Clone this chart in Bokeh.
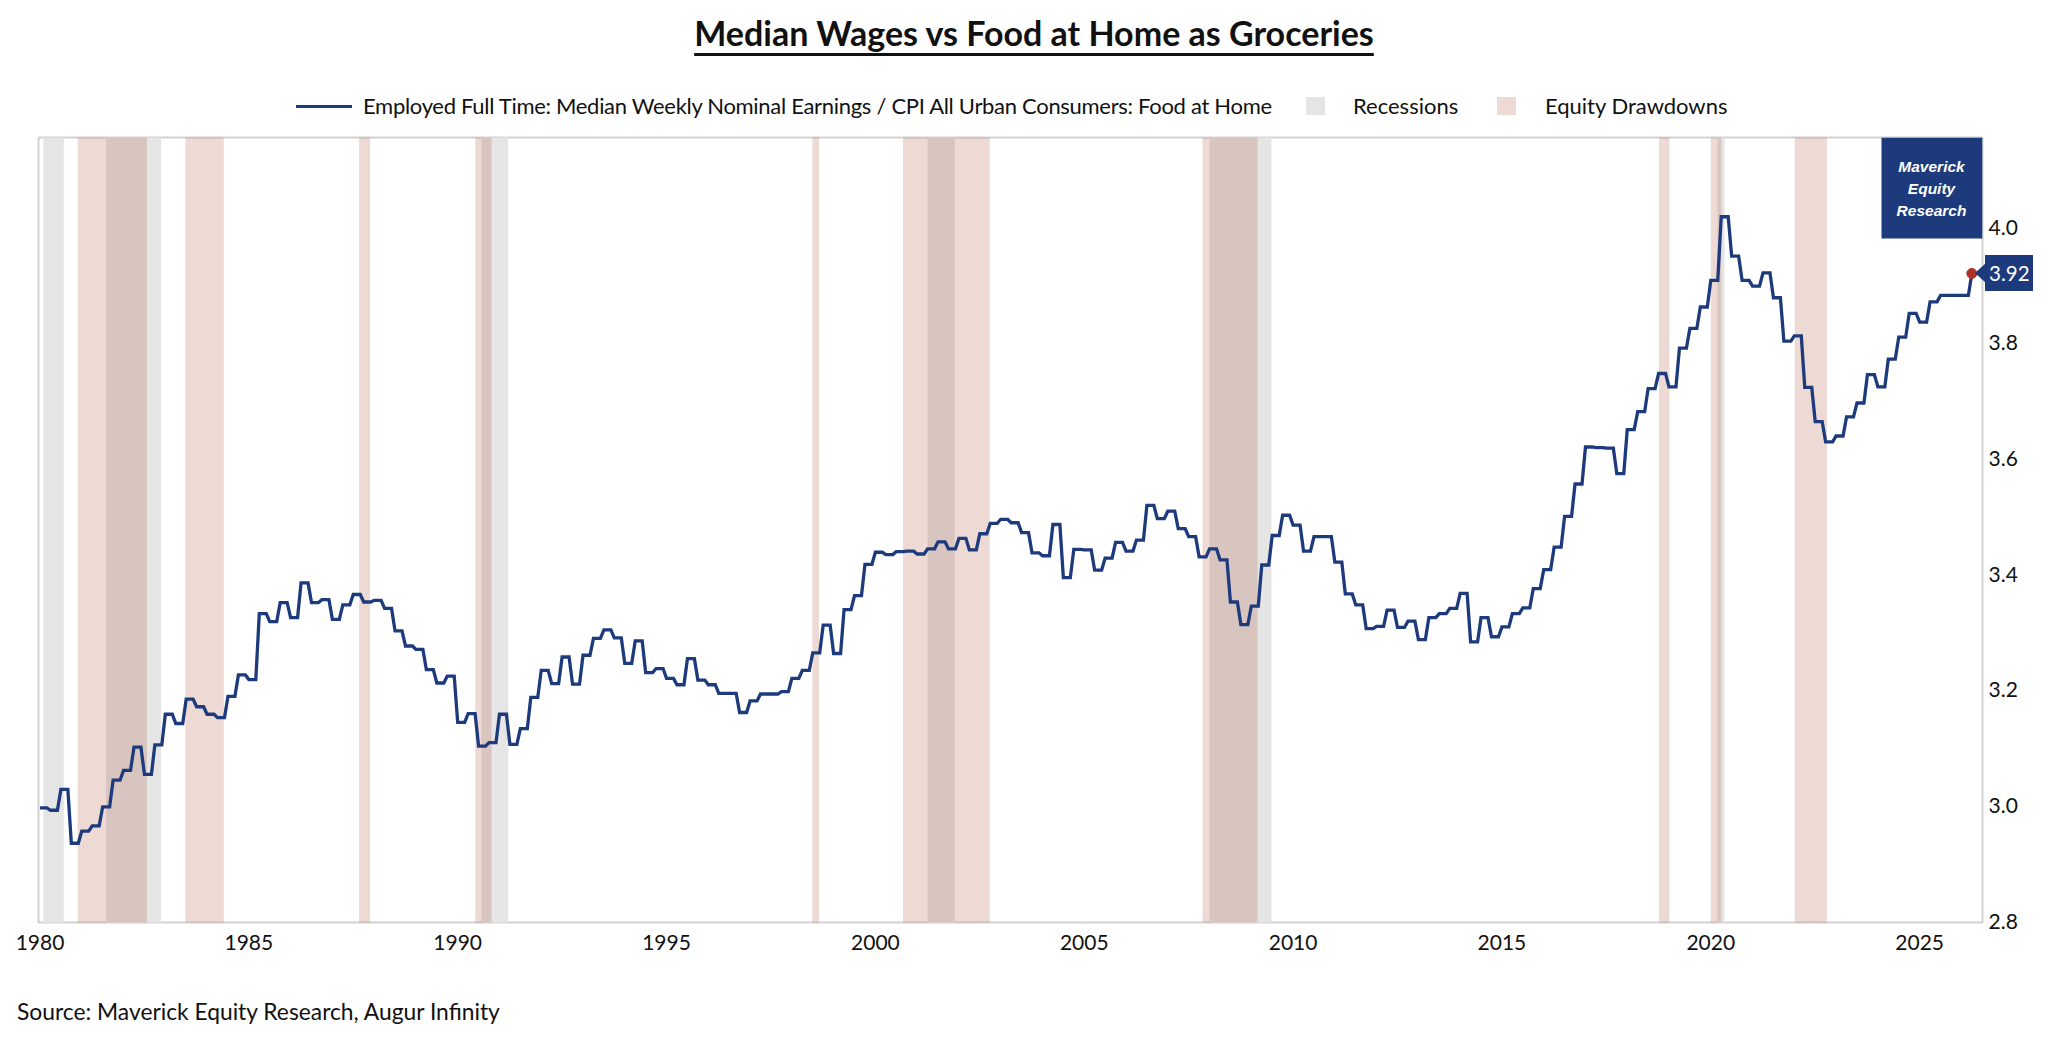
import numpy as np
from bokeh.plotting import figure
from bokeh.layouts import column
from bokeh.models import (ColumnDataSource, Range1d, FixedTicker, Label, BoxAnnotation,
                          PolyAnnotation, NumeralTickFormatter, BasicTickFormatter, Div)
from bokeh.embed import file_html
from bokeh.resources import INLINE

# ---------------- data ----------------
START_YEAR = 1980
# Employed Full Time: Median Weekly Nominal Earnings / CPI Food at Home (quarterly, Q1 1980 .. Q1 2026)
ratio_quarterly = [
    2.996, 2.992, 3.028, 2.935,   # 1980
    2.956, 2.965, 2.998, 3.044,   # 1981
    3.061, 3.101, 3.054, 3.105,   # 1982
    3.158, 3.142, 3.184, 3.171,   # 1983
    3.158, 3.152, 3.189, 3.226,   # 1984
    3.218, 3.332, 3.318, 3.351,   # 1985
    3.325, 3.385, 3.351, 3.356,   # 1986
    3.322, 3.347, 3.365, 3.352,   # 1987
    3.355, 3.341, 3.302, 3.276,   # 1988
    3.270, 3.235, 3.212, 3.224,   # 1989
    3.144, 3.159, 3.103, 3.109,   # 1990
    3.158, 3.106, 3.133, 3.187,   # 1991
    3.234, 3.211, 3.257, 3.210,   # 1992
    3.260, 3.289, 3.304, 3.290,   # 1993
    3.246, 3.285, 3.230, 3.237,   # 1994
    3.220, 3.209, 3.254, 3.217,   # 1995
    3.209, 3.194, 3.194, 3.161,   # 1996
    3.181, 3.193, 3.193, 3.197,   # 1997
    3.220, 3.234, 3.264, 3.312,   # 1998
    3.263, 3.339, 3.363, 3.417,   # 1999
    3.438, 3.434, 3.439, 3.440,   # 2000
    3.435, 3.444, 3.456, 3.444,   # 2001
    3.462, 3.442, 3.470, 3.488,   # 2002
    3.495, 3.489, 3.472, 3.437,   # 2003
    3.432, 3.486, 3.394, 3.443,   # 2004
    3.442, 3.407, 3.428, 3.455,   # 2005
    3.440, 3.459, 3.519, 3.496,   # 2006
    3.509, 3.479, 3.465, 3.430,   # 2007
    3.444, 3.425, 3.352, 3.313,   # 2008
    3.345, 3.416, 3.467, 3.502,   # 2009
    3.485, 3.440, 3.465, 3.465,   # 2010
    3.421, 3.366, 3.347, 3.306,   # 2011
    3.310, 3.338, 3.308, 3.319,   # 2012
    3.287, 3.325, 3.332, 3.341,   # 2013
    3.367, 3.283, 3.325, 3.292,   # 2014
    3.309, 3.332, 3.342, 3.375,   # 2015
    3.408, 3.447, 3.500, 3.556,   # 2016
    3.620, 3.619, 3.618, 3.574,   # 2017
    3.650, 3.681, 3.721, 3.747,   # 2018
    3.724, 3.791, 3.825, 3.862,   # 2019
    3.908, 4.018, 3.950, 3.908,   # 2020
    3.898, 3.921, 3.878, 3.803,   # 2021
    3.812, 3.723, 3.664, 3.629,   # 2022
    3.639, 3.672, 3.696, 3.745,   # 2023
    3.724, 3.772, 3.810, 3.851,   # 2024
    3.836, 3.871, 3.882, 3.882,   # 2025
    3.882,                        # 2026 Q1
]
latest_value = 3.92  # latest monthly reading

recession_start = [1980.08, 1981.58, 1990.57, 2001.25, 2008.00, 2020.16]
recession_end = [1980.57, 1982.90, 1991.21, 2001.90, 2009.48, 2020.33]

drawdown_start = [1980.90, 1983.48, 1987.64, 1990.42, 1998.49, 2000.66, 2007.83, 2018.76, 2020.00, 2022.01]
drawdown_end = [1982.56, 1984.40, 1987.90, 1990.81, 1998.65, 2002.74, 2009.15, 2019.01, 2020.25, 2022.78]

x_ticks = [1980, 1985, 1990, 1995, 2000, 2005, 2010, 2015, 2020, 2025]
y_ticks = [2.8, 3.0, 3.2, 3.4, 3.6, 3.8, 4.0]

title_text = "Median Wages vs Food at Home as Groceries"
series_name = "Employed Full Time: Median Weekly Nominal Earnings / CPI All Urban Consumers: Food at Home"
recession_name = "Recessions"
drawdown_name = "Equity Drawdowns"
source_text = "Source: Maverick Equity Research, Augur Infinity"
logo_lines = ["Maverick", "Equity", "Research"]

# ---------------- styles ----------------
NAVY = "#1d3a7c"
GRAY_BAND = "#e5e5e5"
PINK_BAND = "#a63c22"
PINK_ALPHA = 0.19
PINK_CSS = "rgba(166,60,34,0.19)"
TEXT = "#111111"
FONT = "Lato"
W = 2045

X0, X1 = 1979.964, 2026.505
Y0, Y1 = 2.798, 4.155

TITLE_H = 70
LEG_H = 62
FIG_TOP = TITLE_H + LEG_H          # page y where the figure starts
FIG_BORDER_TOP = 5
FRAME_TOP = FIG_TOP + FIG_BORDER_TOP
FRAME_H = 785
FIG_H = FIG_BORDER_TOP + FRAME_H + 60
FRAME_L, FRAME_R = 38, 1982

# ---------------- header (title + legend) ----------------
title_html = (
    f'<div style="width:{W}px;height:{TITLE_H}px;text-align:center;font-family:{FONT};'
    f'font-weight:bold;font-size:34px;line-height:38px;color:{TEXT};padding-top:14px;padding-left:23px;'
    f'box-sizing:border-box;">'
    f'<span style="text-decoration:underline;text-decoration-thickness:3px;text-underline-offset:7px;">'
    f'{title_text}</span></div>'
)
title_div = Div(text=title_html, width=W, height=TITLE_H, margin=0)

LEG_C = 106 - TITLE_H  # legend centre within this block


def _abs(left, top, inner, extra=""):
    return f'<div style="position:absolute;left:{left}px;top:{top}px;{extra}">{inner}</div>'


txt_style = f"font-family:{FONT};font-size:22px;line-height:26px;color:{TEXT};white-space:nowrap;"
legend_html = (
    f'<div style="position:relative;width:{W}px;height:{LEG_H}px;">'
    + _abs(296, LEG_C - 1.5, "", f"width:56px;height:3px;background:{NAVY};")
    + _abs(363, LEG_C - 13, series_name, txt_style + "letter-spacing:-0.3px;")
    + _abs(1306, LEG_C - 9, "", f"width:19px;height:18px;background:{GRAY_BAND};")
    + _abs(1353, LEG_C - 13, recession_name, txt_style)
    + _abs(1497, LEG_C - 9, "", f"width:19px;height:18px;background:{PINK_CSS};")
    + _abs(1545, LEG_C - 13, drawdown_name, txt_style)
    + '</div>'
)
legend_div = Div(text=legend_html, width=W, height=LEG_H, margin=0)

# ---------------- main chart ----------------
n_months = len(ratio_quarterly) * 3
x_month = START_YEAR + np.arange(n_months) / 12.0
y_month = np.repeat(ratio_quarterly, 3)
x_last = START_YEAR + n_months / 12.0
x_line = np.append(x_month, x_last)
y_line = np.append(y_month, latest_value)

p = figure(width=W, height=FIG_H, output_backend="svg", toolbar_location=None,
           x_range=Range1d(X0, X1), y_range=Range1d(Y0, Y1),
           y_axis_location="right", margin=0,
           min_border_left=FRAME_L, min_border_right=W - FRAME_R,
           min_border_top=FIG_BORDER_TOP, min_border_bottom=FIG_H - FIG_BORDER_TOP - FRAME_H)
p.grid.visible = False
p.outline_line_color = "#d2d2d2"
p.outline_line_width = 2
p.background_fill_color = "white"
p.border_fill_color = "white"

rec_src = ColumnDataSource(dict(left=recession_start, right=recession_end,
                                bottom=[Y0 - 1] * len(recession_start), top=[Y1 + 1] * len(recession_start)))
dd_src = ColumnDataSource(dict(left=drawdown_start, right=drawdown_end,
                               bottom=[Y0 - 1] * len(drawdown_start), top=[Y1 + 1] * len(drawdown_start)))
p.quad(left="left", right="right", bottom="bottom", top="top", source=rec_src,
       fill_color=GRAY_BAND, line_color=None)
p.quad(left="left", right="right", bottom="bottom", top="top", source=dd_src,
       fill_color=PINK_BAND, fill_alpha=PINK_ALPHA, line_color=None)

p.line(x_line, y_line, line_color=NAVY, line_width=3.3, line_join="miter")

# axes
p.xaxis.ticker = FixedTicker(ticks=x_ticks)
p.xaxis.formatter = BasicTickFormatter(use_scientific=False)
p.yaxis.ticker = FixedTicker(ticks=y_ticks)
p.yaxis.formatter = NumeralTickFormatter(format="0.0")
for ax in (p.xaxis[0], p.yaxis[0]):
    ax.axis_line_color = None
    ax.major_tick_line_color = None
    ax.minor_tick_line_color = None
    ax.major_tick_out = 0
    ax.major_tick_in = 0
    ax.major_label_text_font = FONT
    ax.major_label_text_font_size = "21px"
    ax.major_label_text_color = TEXT
p.xaxis.major_label_standoff = 12
p.yaxis.major_label_standoff = 6

# logo box (inside the frame, top-right)
p.add_layout(BoxAnnotation(left=1881 - FRAME_L, right=FRAME_R - FRAME_L, top=FRAME_H, bottom=FRAME_H - 101,
                           left_units="screen", right_units="screen", top_units="screen", bottom_units="screen",
                           fill_color=NAVY, fill_alpha=1, line_color=None))
for i, t in enumerate(logo_lines):
    p.add_layout(Label(x=1931 - FRAME_L, y=FRAME_H - 29 - 22 * i, x_units="screen", y_units="screen", text=t,
                       text_align="center", text_baseline="middle", text_font="Liberation Sans",
                       text_font_style="bold italic", text_font_size="15.5px", text_color="white"))

# latest value: pointer (inside part), dot
px_per_year = (FRAME_R - FRAME_L) / (X1 - X0)
px_per_val = FRAME_H / (Y1 - Y0)
tip = x_last + 4 / px_per_year
base = x_last + 16 / px_per_year
half = 10 / px_per_val
p.add_layout(PolyAnnotation(xs=[tip, base, base], ys=[latest_value, latest_value + half, latest_value - half],
                            fill_color=NAVY, fill_alpha=1, line_color=None))
p.scatter([x_last], [latest_value], size=10, fill_color="#b0302a", line_color="#b0302a")

# latest value tag (HTML overlay positioned from the chart scales)
tag_cx = FRAME_L + (x_last - X0) * px_per_year          # page x of last point
tag_cy = FRAME_TOP + (Y1 - latest_value) * px_per_val   # page y of last point

# ---------------- footer ----------------
SRC_H = 40
src_top = FIG_TOP + FIG_H
tag_html = (
    _abs(tag_cx + 4, tag_cy - src_top - 10, "",
         f"width:0;height:0;border-top:10px solid transparent;border-bottom:10px solid transparent;"
         f"border-right:11px solid {NAVY};z-index:10;")
    + _abs(tag_cx + 14, tag_cy - src_top - 18, f"{latest_value:.2f}",
           f"width:48px;height:36px;background:{NAVY};color:white;font-family:{FONT};font-size:20.5px;"
           f"line-height:36px;text-align:center;z-index:10;")
)
source_html = (
    f'<div style="position:relative;width:{W}px;height:{SRC_H}px;">'
    + _abs(17, 16, source_text, txt_style.replace("22px", "22.8px"))
    + tag_html
    + '</div>'
)
source_div = Div(text=source_html, width=W, height=SRC_H, margin=0, styles={"overflow": "visible", "z-index": "5"})

layout = column(title_div, legend_div, p, source_div, spacing=0, margin=0)
open("out.html", "w").write(file_html(layout, INLINE))
